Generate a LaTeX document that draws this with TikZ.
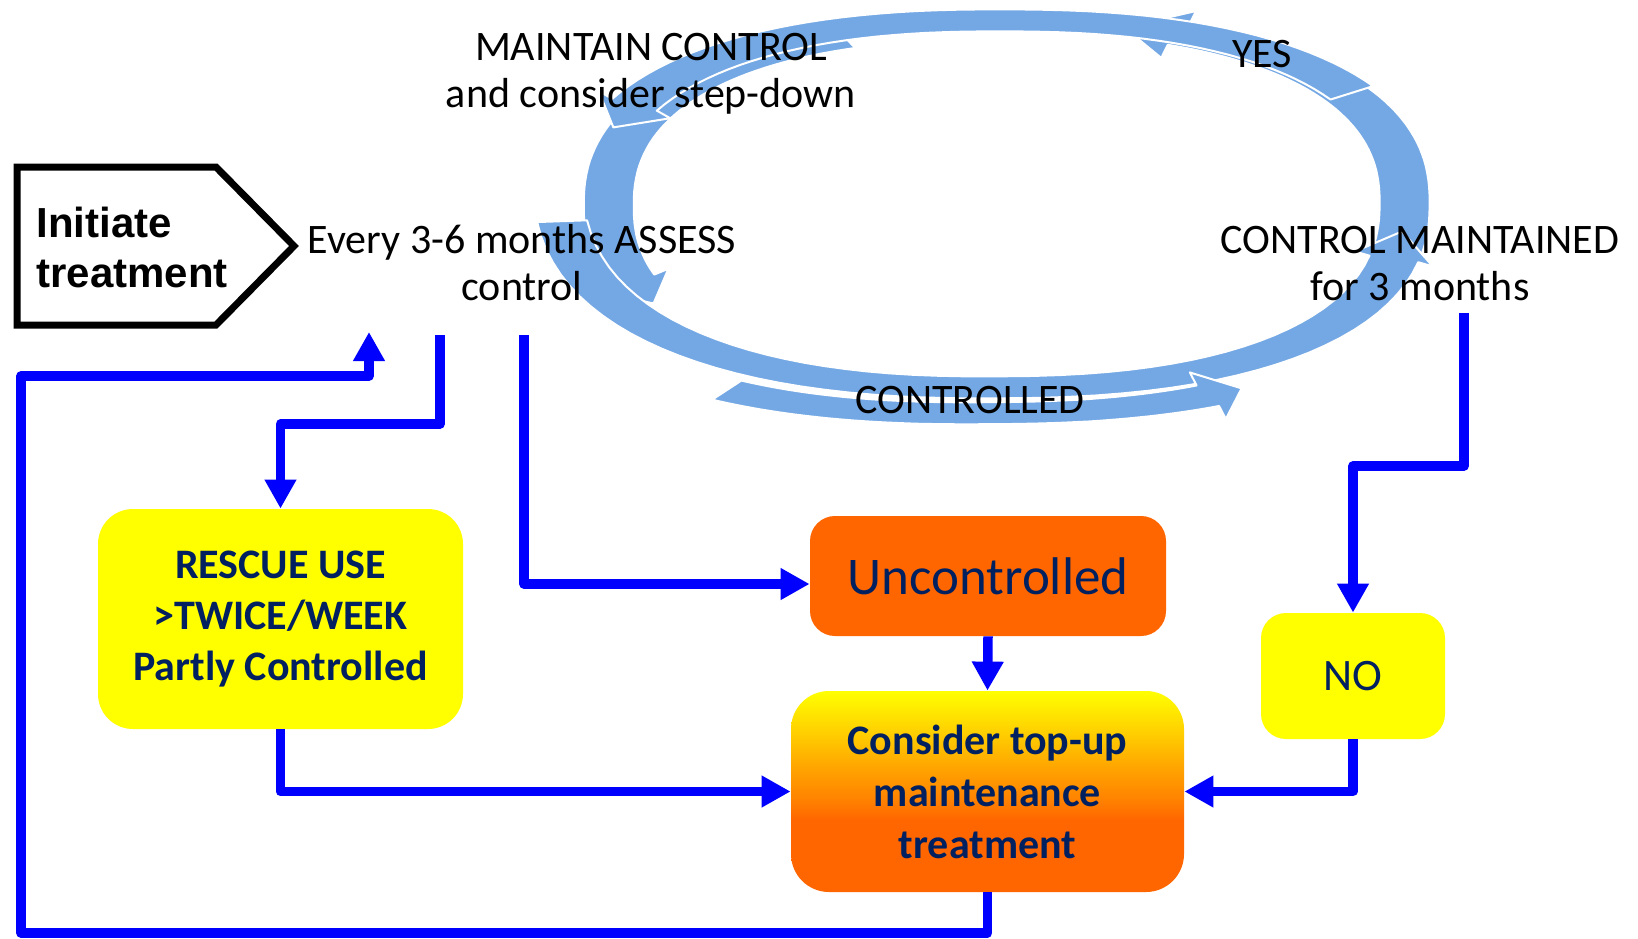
\documentclass[tikz,border=0pt]{standalone}
\usepackage{fontspec}
\setmainfont{Carlito}
\newfontfamily\arialfont{Liberation Sans}
\usetikzlibrary{arrows.meta}
\definecolor{ringblue}{RGB}{116,168,228}
\definecolor{navy}{RGB}{0,32,96}
\definecolor{connblue}{RGB}{0,0,255}
\definecolor{orng}{RGB}{255,102,0}
\definecolor{yel}{RGB}{255,255,0}
\definecolor{shA}{RGB}{255,102,0}
\definecolor{shB}{RGB}{255,130,0}
\definecolor{shC}{RGB}{255,165,0}
\definecolor{shD}{RGB}{255,204,0}
\definecolor{shE}{RGB}{255,255,0}
\pgfdeclareverticalshading{considershade}{100bp}{color(0bp)=(shA); color(43bp)=(shA); color(48bp)=(shB); color(56bp)=(shC); color(64bp)=(shD); color(75bp)=(shE); color(100bp)=(shE)}

\newcommand{\ringarrow}[6]{%
  \pgfmathsetmacro\rTa{#1}%
  \pgfmathsetmacro\rTb{#2}%
  \pgfmathsetmacro\rTc{#3}%
  \pgfmathsetmacro\rSa{#4}%
  \pgfmathsetmacro\rSb{#5}%
  \pgfmathsetmacro\rP{#6}%
  \pgfmathsetmacro\rSc{rs(\rTb,\rTa,\rTc,\rSa,\rSb,\rP)}%
  \fill[ringseg] plot[domain=\rTa:\rTb, samples=50, variable=\q]
    ({1003+(405*rs(\q,\rTa,\rTc,\rSa,\rSb,\rP)+25)*sgX(\q)},
     {205-(182*rs(\q,\rTa,\rTc,\rSa,\rSb,\rP)+11)*sgY(\q)})
   -- ({1003+(405*\rSc+40)*sgX(\rTb)},{205-(182*\rSc+25)*sgY(\rTb)})
   -- ({1003+405*\rSb*sgX(\rTc)},{205-182*\rSb*sgY(\rTc)})
   -- ({1003+(405*\rSc-40)*sgX(\rTb)},{205-(182*\rSc-25)*sgY(\rTb)})
   -- plot[domain=\rTb:\rTa, samples=50, variable=\q]
    ({1003+(405*rs(\q,\rTa,\rTc,\rSa,\rSb,\rP)-25)*sgX(\q)},
     {205-(182*rs(\q,\rTa,\rTc,\rSa,\rSb,\rP)-11)*sgY(\q)})
   -- cycle;
}

\begin{document}
\begin{tikzpicture}[x=0.5pt,y=-0.5pt,
  declare function={
    sgX(\q)=cos(\q)/(abs(cos(\q))+0.00001)*(abs(cos(\q))+0.00001)^0.85;
    sgY(\q)=sin(\q)/(abs(sin(\q))+0.00001)*(abs(sin(\q))+0.00001)^0.85;
    rs(\q,\qa,\qc,\qs,\qt,\qp)=\qs+(\qt-\qs)*(1-(1.00001-(\q-\qa)/(\qc-\qa))^\qp);
  },
  ringseg/.style={fill=ringblue, draw=white, line width=1pt, line join=round},
  cyc/.style={font=\fontsize{21}{23.5}\selectfont, align=center, inner sep=0pt, text=black},
  box/.style={text=navy, align=center, inner sep=0pt},
  conn/.style={draw=connblue, line width=4.75pt, line join=round, -{Triangle[length=14.5pt,width=15pt]}}
]
\fill[white] (0,0) rectangle (1638,938);
\useasboundingbox (0,0) rectangle (1638,938);

% cycle ring
\ringarrow{-15}{68}{76}{0.99}{1.0}{1}
\ringarrow{110}{201}{210}{0.97}{0.975}{1}
\ringarrow{183}{346}{354}{1.09}{0.99}{3}
\ringarrow{238}{293}{298}{1.17}{1.12}{1}
\ringarrow{34}{151}{159}{1.01}{1.02}{1}

% cycle texts (base anchor = baseline of the last line)
\node[cyc, anchor=base] (assess) at (522,300) {Every 3-6 months ASSESS\\control};
\node[cyc, anchor=base] (maintain) at (651,107) {MAINTAIN CONTROL\\and consider step-down};
\node[cyc, anchor=base] (yes) at (1262,67) {YES};
\node[cyc, anchor=base] (maint3) at (1420,300) {CONTROL MAINTAINED\\for 3 months};
\node[cyc, anchor=base] (controlled) at (970,413) {CONTROLLED};

% initiate pentagon
\draw[line width=3.5pt, line join=miter] (17,167) -- (216,167) -- (294,246) -- (216,325) -- (17,325) -- cycle;
\node[font=\arialfont\bfseries\fontsize{21}{25}\selectfont, align=left, anchor=base west, inner sep=0pt] (initiate) at (36,287) {Initiate\\treatment};

% boxes
\node[box, fill=yel, minimum width=182.5pt, minimum height=110pt, rounded corners=17.5pt,
      font=\bfseries\fontsize{21}{25.5}\selectfont] (rescue) at (280.5,619) {RESCUE USE\\>TWICE/WEEK\\Partly Controlled};
\node[box, fill=orng, minimum width=178pt, minimum height=60pt, rounded corners=12.5pt,
      font=\fontsize{26.5}{30}\selectfont] (uncont) at (988,576) {Uncontrolled};
\node[box, shading=considershade, minimum width=196.5pt, minimum height=100.5pt, rounded corners=19pt,
      font=\bfseries\fontsize{21}{26}\selectfont] (consider) at (987.5,791.5) {Consider top-up\\maintenance\\treatment};
\node[box, fill=yel, minimum width=92pt, minimum height=63pt, rounded corners=12.5pt,
      font=\fontsize{22.5}{26}\selectfont] (no) at (1353,676) {NO};

% connector start/end points
\coordinate (r1) at (440,335);
\coordinate (u1) at (524,335);
\coordinate (n1) at (1464,313);
\coordinate (back) at (369,332);

\draw[conn] (r1) -- (440,424) -| (rescue.north);
\draw[conn] (u1) |- ([yshift=-4pt]uncont.west);
\draw[conn] (rescue.south) |- (consider.west);
\draw[conn] (uncont.south) -- (consider.north);
\draw[conn] (n1) -- (1464,466) -| (no.north);
\draw[conn] (no.south) |- (consider.east);
\draw[conn] (consider.south) |- (21,933) |- (369,376) -- (back);
\end{tikzpicture}
\end{document}
